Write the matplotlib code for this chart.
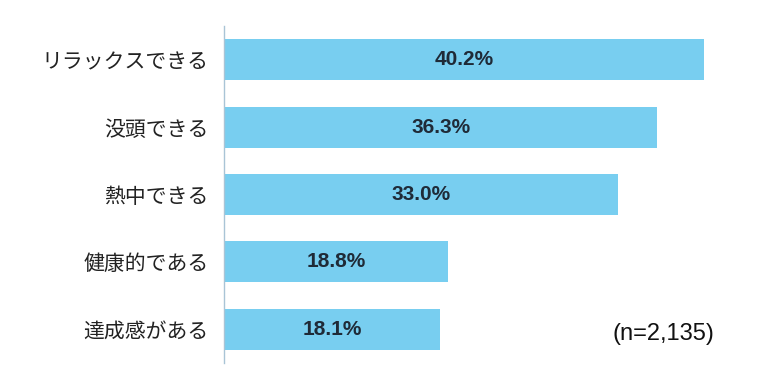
import matplotlib
matplotlib.use("Agg")
import matplotlib.pyplot as plt

categories = ["リラックスできる", "没頭できる", "熱中できる", "健康的である", "達成感がある"]
values = [40.2, 36.3, 33.0, 18.8, 18.1]
note = "(n=2,135)"

bar_color = "#78CEF0"
text_color = "#1F2A37"

plt.rcParams['font.family'] = ['Noto Sans CJK JP', 'DejaVu Sans']

fig = plt.figure(figsize=(7.68, 3.84), dpi=100)
ax = fig.add_axes([224 / 768, 1 - 363 / 384, 537 / 768, 337 / 384])

ypos = list(range(len(categories)))
ax.barh(ypos, values, height=0.61, color=bar_color, edgecolor="none")
ax.set_ylim(len(categories) - 0.5, -0.5)
ax.set_xlim(0, 45)

for y, v in zip(ypos, values):
    ax.text(v / 2, y, f"{v:.1f}%", ha="center", va="center", fontsize=15,
            fontweight="bold", color=text_color, family=["Liberation Sans", "DejaVu Sans"])

ax.set_yticks(ypos)
ax.set_yticklabels(categories, fontsize=15, color="#222222")
ax.tick_params(axis="y", length=0, pad=11)
ax.set_xticks([])
for s in ["top", "right", "bottom"]:
    ax.spines[s].set_visible(False)
ax.spines["left"].set_color("#A9C4D6")
ax.spines["left"].set_linewidth(1)

fig.text(663 / 768, 1 - 334 / 384, note, ha="center", va="center", fontsize=17,
         color="#111111", family=["Liberation Sans", "DejaVu Sans"])

fig.savefig("out.png", dpi=100)
